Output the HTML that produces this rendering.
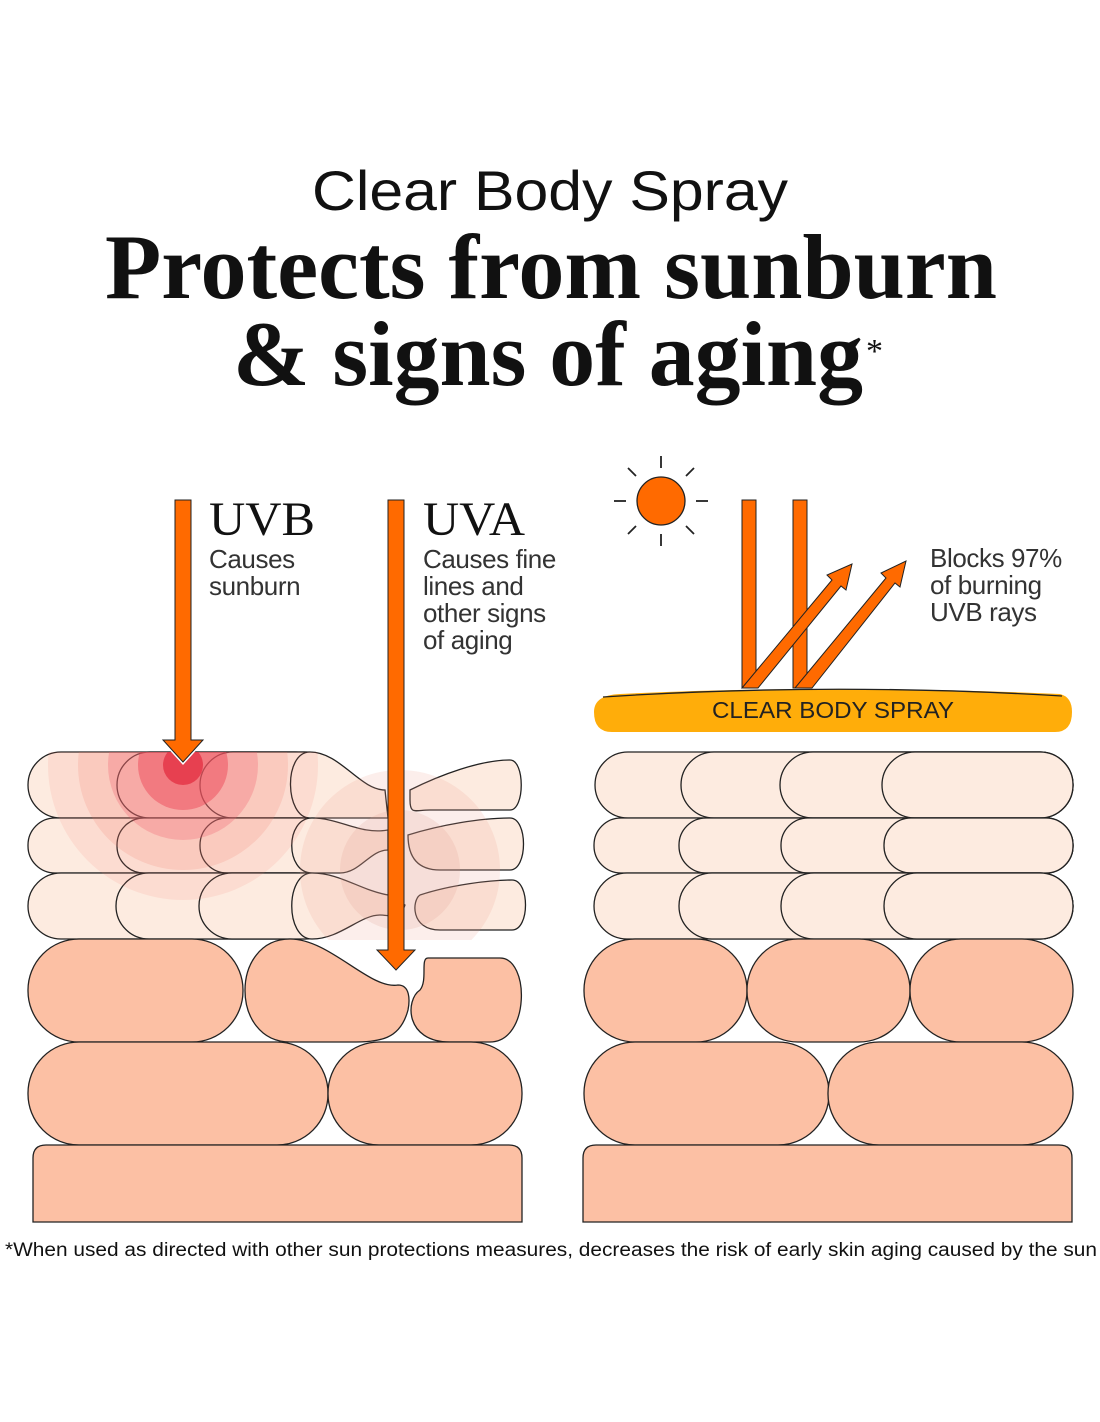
<!DOCTYPE html>
<html><head><style>
body{margin:0;background:#fff;}
svg{display:block}
</style></head><body>
<svg width="1100" height="1422" viewBox="0 0 1100 1422" xmlns="http://www.w3.org/2000/svg">
<defs>
<clipPath id="lc"><rect x="28" y="752" width="500" height="188"/></clipPath>
</defs>
<rect width="1100" height="1422" fill="#fff"/>
<text x="312" y="210" textLength="476" lengthAdjust="spacingAndGlyphs" font-family="Liberation Sans, sans-serif" font-size="56" fill="#111">Clear Body Spray</text>
<text x="105" y="298" textLength="892" lengthAdjust="spacingAndGlyphs" font-family="Liberation Serif, serif" font-weight="bold" font-size="92" fill="#111">Protects from sunburn</text>
<text x="233" y="385" textLength="630" lengthAdjust="spacingAndGlyphs" font-family="Liberation Serif, serif" font-weight="bold" font-size="92" fill="#111">&amp; signs of aging</text>
<text x="866" y="362" font-family="Liberation Serif, serif" font-size="34" fill="#111">*</text>

<g stroke="#222" stroke-width="1.3">
<g fill="#fdebe0">
<rect x="28" y="752" width="300" height="66" rx="33"/>
<rect x="117" y="752" width="220" height="66" rx="33"/>
<rect x="200" y="752" width="140" height="66" rx="33"/>
<rect x="28" y="818" width="300" height="55" rx="27"/>
<rect x="117" y="818" width="220" height="55" rx="27"/>
<rect x="200" y="818" width="140" height="55" rx="27"/>
<rect x="28" y="873" width="300" height="66" rx="33"/>
<rect x="116" y="873" width="220" height="66" rx="33"/>
<rect x="199" y="873" width="140" height="66" rx="33"/>
<path d="M310 752 C340 752 360 790 385 790 L388 818 L310 818 C285 818 283 752 310 752Z"/>
<path d="M410 790 C440 775 480 760 510 760 C525 760 525 810 510 810 L430 810 C415 810 410 815 410 800Z"/>
<path d="M312 818 C340 818 360 835 388 830 L388 850 C370 850 360 873 340 873 L312 873 C285 873 285 818 312 818Z"/>
<path d="M408 835 C440 825 480 818 510 818 C528 818 528 870 510 870 L440 870 C420 870 408 860 408 835Z"/>
<path d="M312 873 C340 873 360 890 388 895 L405 905 C400 920 388 915 380 915 C360 915 340 939 312 939 C285 939 285 873 312 873Z"/>
<path d="M420 895 C450 885 490 880 512 880 C530 880 530 930 512 930 L440 930 C410 930 412 900 420 895Z"/>
</g>
<g clip-path="url(#lc)" stroke="none">
<circle cx="183" cy="765" r="135" fill="#f47a6a" opacity="0.13"/>
<circle cx="183" cy="765" r="105" fill="#f47a6a" opacity="0.18"/>
<circle cx="183" cy="765" r="75" fill="#f26070" opacity="0.3"/>
<circle cx="183" cy="765" r="45" fill="#ee4a5a" opacity="0.5"/>
<circle cx="183" cy="765" r="20" fill="#e3283c" opacity="0.7"/>
<circle cx="400" cy="870" r="100" fill="#f0a090" opacity="0.18"/>
<circle cx="400" cy="870" r="60" fill="#e0a090" opacity="0.2"/>
</g>
<g fill="#fcc0a4">
<rect x="28" y="939" width="215" height="103" rx="51"/>
<path d="M290 939 C330 939 370 990 398 985 C410 985 410 1000 408 1010 C400 1040 380 1042 350 1042 L290 1042 C230 1042 230 939 290 939Z"/>
<path d="M428 958 L500 958 C530 958 530 1042 490 1042 L450 1042 C405 1042 405 1000 420 990 C428 980 420 958 428 958Z"/>
<rect x="28" y="1042" width="300" height="103" rx="51"/>
<rect x="328" y="1042" width="194" height="103" rx="51"/>
<path d="M33 1222 L33 1158 Q33 1145 46 1145 L509 1145 Q522 1145 522 1158 L522 1222Z"/>
<g fill="#fdebe0">
<rect x="595" y="752" width="478" height="66" rx="33"/>
<rect x="681" y="752" width="392" height="66" rx="33"/>
<rect x="780" y="752" width="293" height="66" rx="33"/>
<rect x="882" y="752" width="191" height="66" rx="33"/>
<rect x="594" y="818" width="479" height="55" rx="27"/>
<rect x="679" y="818" width="394" height="55" rx="27"/>
<rect x="781" y="818" width="292" height="55" rx="27"/>
<rect x="884" y="818" width="189" height="55" rx="27"/>
<rect x="594" y="873" width="479" height="66" rx="33"/>
<rect x="679" y="873" width="394" height="66" rx="33"/>
<rect x="781" y="873" width="292" height="66" rx="33"/>
<rect x="884" y="873" width="189" height="66" rx="33"/>
</g>
<rect x="584" y="939" width="163" height="103" rx="51"/>
<rect x="747" y="939" width="163" height="103" rx="51"/>
<rect x="910" y="939" width="163" height="103" rx="51"/>
<rect x="584" y="1042" width="245" height="103" rx="51"/>
<rect x="828" y="1042" width="245" height="103" rx="51"/>
<path d="M583 1222 L583 1158 Q583 1145 596 1145 L1059 1145 Q1072 1145 1072 1158 L1072 1222Z"/>
</g>
</g>

<g fill="#ff6a00" stroke="#222" stroke-width="1">
<path d="M175 500 L191 500 L191 740 L203 740 L183 762 L163 740 L175 740Z" stroke="#fff" stroke-width="4"/>
<path d="M175 500 L191 500 L191 740 L203 740 L183 762 L163 740 L175 740Z"/>
<path d="M388 500 L404 500 L404 950 L415 950 L396 970 L377 950 L388 950Z"/>
</g>
<g font-family="Liberation Serif, serif" font-size="48" fill="#111">
<text x="209" y="535" textLength="106" lengthAdjust="spacingAndGlyphs">UVB</text><text x="423" y="535" textLength="102" lengthAdjust="spacingAndGlyphs">UVA</text>
</g>
<g font-family="Liberation Sans, sans-serif" font-size="26" fill="#333" letter-spacing="-0.4">
<text x="209" y="568">Causes</text><text x="209" y="595">sunburn</text>
<text x="423" y="568">Causes fine</text><text x="423" y="595">lines and</text><text x="423" y="622">other signs</text><text x="423" y="649">of aging</text>
<text x="930" y="567">Blocks 97%</text><text x="930" y="594">of burning</text><text x="930" y="621">UVB rays</text>
</g>

<circle cx="661" cy="501" r="24" fill="#ff6a00" stroke="#222" stroke-width="1.3"/>
<g stroke="#222" stroke-width="1.8">
<line x1="661" y1="456" x2="661" y2="468"/><line x1="661" y1="534" x2="661" y2="546"/>
<line x1="614" y1="501" x2="626" y2="501"/><line x1="696" y1="501" x2="708" y2="501"/>
<line x1="628" y1="468" x2="636" y2="476"/><line x1="686" y1="526" x2="694" y2="534"/>
<line x1="686" y1="476" x2="694" y2="468"/><line x1="628" y1="534" x2="636" y2="526"/>
</g>
<g fill="#ff6a00" stroke="#222" stroke-width="1">
<rect x="742" y="500" width="14" height="188"/>
<rect x="793" y="500" width="14" height="188"/>
<path d="M742 688 L832 580 L827 575 L852 564 L846 590 L841 586 L758 688Z"/>
<path d="M795 688 L886 578 L881 573 L906 561 L900 587 L895 583 L812 688Z"/>
</g>
<path d="M594 712 Q594 695 620 694 Q830 684 1060 694 Q1072 697 1072 712 Q1072 732 1055 732 L612 732 Q594 732 594 712Z" fill="#ffad0a"/>
<path d="M603 697 Q830 682 1062 696" fill="none" stroke="#222" stroke-width="1.3"/>
<text x="712" y="718" textLength="242" lengthAdjust="spacingAndGlyphs" font-family="Liberation Sans, sans-serif" font-size="23" fill="#222">CLEAR BODY SPRAY</text>

<text x="5" y="1256" textLength="1092" lengthAdjust="spacingAndGlyphs" font-family="Liberation Sans, sans-serif" font-size="19" fill="#111">*When used as directed with other sun protections measures, decreases the risk of early skin aging caused by the sun</text>
</svg>
</body></html>
